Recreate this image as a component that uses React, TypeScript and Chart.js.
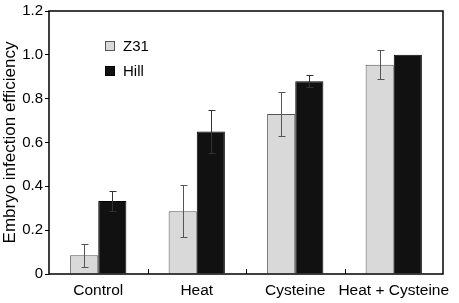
import React, { useEffect, useRef } from "react";
import { Chart, registerables } from "chart.js";
Chart.register(...registerables);

const categories = ["Control", "Heat", "Cysteine", "Heat + Cysteine"];
const z31Values = [0.086, 0.286, 0.73, 0.955];
const z31Err = [0.053, 0.118, 0.1, 0.065];
const hillValues = [0.333, 0.65, 0.88, 1.0];
const hillErr = [0.047, 0.1, 0.027, 0];
const yTicks = [0, 0.2, 0.4, 0.6, 0.8, 1.0, 1.2];

const FONT = "'Liberation Sans', Arial, sans-serif";

const errorBarPlugin = {
  id: "errorBars",
  afterDatasetsDraw(chart: any) {
    const ctx = chart.ctx;
    const yScale = chart.scales.y;
    const errs = [z31Err, hillErr];
    const colors = ["#555", "#333"];
    chart.data.datasets.forEach((ds: any, di: number) => {
      const meta = chart.getDatasetMeta(di);
      meta.data.forEach((bar: any, i: number) => {
        const e = errs[di][i];
        if (!e) return;
        const v = ds.data[i];
        const yTop = Math.round(yScale.getPixelForValue(v + e)) + 0.5;
        const yBot = Math.round(yScale.getPixelForValue(v - e)) + 0.5;
        const x = Math.round(bar.x) + 0.5;
        ctx.save();
        ctx.strokeStyle = colors[di];
        ctx.lineWidth = 1;
        ctx.beginPath();
        ctx.moveTo(x, yTop);
        ctx.lineTo(x, yBot);
        ctx.moveTo(x - 3, yTop);
        ctx.lineTo(x + 4, yTop);
        ctx.moveTo(x - 3, yBot);
        ctx.lineTo(x + 4, yBot);
        ctx.stroke();
        ctx.restore();
      });
    });
  },
};

const framePlugin = {
  id: "frame",
  afterDraw(chart: any) {
    const ctx = chart.ctx;
    const a = chart.chartArea;
    const x = chart.scales.x;
    ctx.save();
    ctx.strokeStyle = "#000";
    ctx.lineWidth = 1.5;
    ctx.strokeRect(a.left, a.top, a.right - a.left, a.bottom - a.top);
    // inward ticks at category boundaries
    ctx.lineWidth = 1;
    for (let i = 1; i < categories.length; i++) {
      const px = Math.round((x.getPixelForValue(i - 1) + x.getPixelForValue(i)) / 2) + 0.5;
      ctx.beginPath();
      ctx.moveTo(px, a.bottom);
      ctx.lineTo(px, a.bottom - 5);
      ctx.stroke();
    }
    // legend
    const items = [
      { label: "Z31", fill: "#d9d9d9", stroke: "#555" },
      { label: "Hill", fill: "#111", stroke: "#000" },
    ];
    items.forEach((it, i) => {
      const bx = a.left + 56;
      const by = a.top + 30 + i * 25;
      ctx.fillStyle = it.fill;
      ctx.fillRect(bx, by, 10, 10);
      ctx.strokeStyle = it.stroke;
      ctx.lineWidth = 1;
      ctx.strokeRect(bx + 0.5, by + 0.5, 9, 9);
      ctx.fillStyle = "#000";
      ctx.font = `15px ${FONT}`;
      ctx.textBaseline = "middle";
      ctx.textAlign = "left";
      ctx.fillText(it.label, bx + 18, by + 5.5);
    });
    ctx.restore();
  },
};

export default function App() {
  const ref = useRef<HTMLCanvasElement>(null);
  useEffect(() => {
    document.body.style.margin = "0";
    const chart = new Chart(ref.current!, {
      type: "bar",
      data: {
        labels: categories,
        datasets: [
          {
            label: "Z31",
            data: z31Values,
            backgroundColor: "#d9d9d9",
            borderColor: "#555",
            borderWidth: 1,
            barPercentage: 1,
            categoryPercentage: 0.571,
          },
          {
            label: "Hill",
            data: hillValues,
            backgroundColor: "#111",
            borderColor: "#000",
            borderWidth: 1,
            barPercentage: 1,
            categoryPercentage: 0.571,
          },
        ],
      },
      options: {
        animation: false,
        responsive: false,
        maintainAspectRatio: false,
        layout: { padding: { top: 11, right: 16, left: 0, bottom: 0 } },
        plugins: { legend: { display: false }, tooltip: { enabled: false } },
        scales: {
          x: {
            grid: { display: false, drawTicks: false },
            border: { display: false },
            ticks: { color: "#000", font: { family: FONT, size: 15.5 }, padding: 7, maxRotation: 0, autoSkip: false },
            afterFit: (s: any) => { s.height = 29; },
          },
          y: {
            min: 0,
            max: 1.2,
            afterBuildTicks: (s: any) => { s.ticks = yTicks.map((v) => ({ value: v })); },
            grid: { display: true, drawOnChartArea: false, drawTicks: true, tickLength: 4, color: "#000", lineWidth: 1 },
            border: { display: false },
            ticks: {
              color: "#000",
              font: { family: FONT, size: 15 },
              padding: 2,
              callback: (v: any) => (v === 0 ? "0" : Number(v).toFixed(1)),
            },
            title: {
              display: true,
              text: "Embryo infection efficiency",
              color: "#000",
              font: { family: FONT, size: 17 },
              padding: { top: 0, bottom: 0 },
            },
            afterFit: (s: any) => { s.width = 49; },
          },
        },
      },
      plugins: [errorBarPlugin, framePlugin],
    });
    return () => chart.destroy();
  }, []);
  return (
    <div style={{ width: 459, height: 303 }}>
      <canvas ref={ref} width={459} height={303} style={{ width: 459, height: 303 }} />
    </div>
  );
}
